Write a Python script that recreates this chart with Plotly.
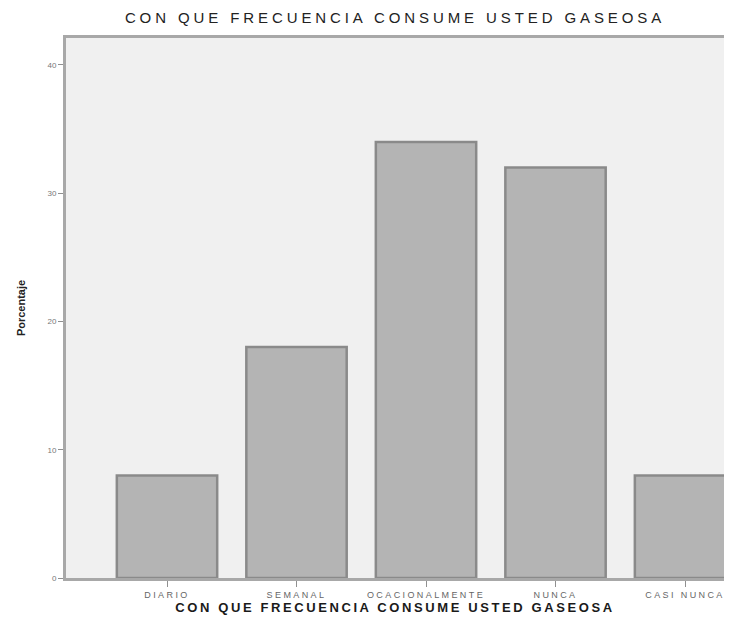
import plotly.graph_objects as go

categories = ["DIARIO", "SEMANAL", "OCACIONALMENTE", "NUNCA", "CASI NUNCA"]
percentages = [8, 18, 34, 32, 8]
y_ticks = [0, 10, 20, 30, 40]
title_text = "CON QUE FRECUENCIA CONSUME USTED GASEOSA"
x_title = "CON QUE FRECUENCIA CONSUME USTED GASEOSA"
y_title = "Porcentaje"

spaced = lambda s, ls: '<span style="letter-spacing:%spx">%s</span>' % (ls, s)

fig = go.Figure()
fig.add_trace(go.Bar(
    x=categories,
    y=percentages,
    width=0.775,
    marker=dict(color="#b4b4b4", line=dict(color="#8a8a8a", width=2.5)),
    cliponaxis=True,
    hoverinfo="x+y",
))

# page body has an 8px margin, so the figure is made smaller to avoid scrollbars
fig.update_layout(
    width=716,
    height=620,
    margin=dict(l=58, r=0, t=30, b=50),
    paper_bgcolor="white",
    plot_bgcolor="#f0f0f0",
    showlegend=False,
    font=dict(family="Liberation Sans, Arial, sans-serif", color="#333"),
    title=dict(
        text=spaced(title_text, 3.9),
        x=387 / 716, xanchor="center", y=0.984, yanchor="middle",
        font=dict(size=15, color="#222", family="Liberation Sans, Arial, sans-serif"),
    ),
    xaxis=dict(
        range=[-0.78, 4.301],
        tickmode="array",
        tickvals=categories,
        ticktext=[spaced(c, 2.4) for c in categories],
        showline=True, linecolor="#a8a8a8", linewidth=3, mirror=True,
        ticks="outside", ticklen=6, tickwidth=1, tickcolor="#909090",
        tickfont=dict(size=9, color="#666"),
        showgrid=False, zeroline=False,
        title=dict(
            text='<b>' + spaced(x_title, 2.6) + '</b>',
            font=dict(size=13, color="#1a1a1a"), standoff=1,
        ),
    ),
    yaxis=dict(
        range=[0, 42.1],
        tickvals=y_ticks,
        showline=True, linecolor="#a8a8a8", linewidth=3,
        ticks="outside", ticklen=5, tickwidth=1, tickcolor="#909090",
        tickfont=dict(size=8, color="#777"),
        showgrid=False, zeroline=False,
        title=dict(text="<b>" + y_title + "</b>", font=dict(size=11, color="#222"), standoff=20),
    ),
)

fig.write_html("out.html")
